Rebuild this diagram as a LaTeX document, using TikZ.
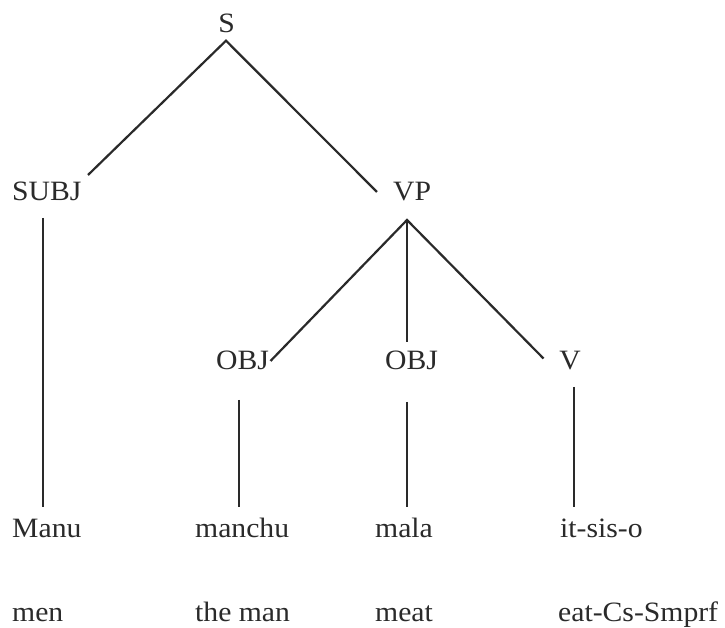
\documentclass[tikz,border=0pt]{standalone}
\usepackage{fontspec}
\setmainfont[FakeStretch=1.06]{Liberation Serif}
\definecolor{ink}{HTML}{2A2A2A}
\begin{document}
\begin{tikzpicture}[x=1pt,y=1pt,
  lbl/.style={inner sep=0pt,anchor=base west,text=ink,font=\fontsize{28}{30}\selectfont},
  lblc/.style={lbl,anchor=base},
  edge/.style={draw=ink,line width=2.2pt}]
\useasboundingbox[fill=white] (0,0) rectangle (725,628);
% category nodes
\node[lblc] (S) at (226.7,595) {S};
\node[lbl] (SUBJ) at (12,427) {SUBJ};
\node[lbl] (VP) at (393,427) {VP};
\node[lbl] (OBJa) at (216,258) {OBJ};
\node[lbl] (OBJb) at (385,258) {OBJ};
\node[lblc] (V) at (570,258) {V};
% words
\node[lbl] (Manu) at (12,90) {Manu};
\node[lbl] (manchu) at (195,90) {manchu};
\node[lbl] (mala) at (375,90) {mala};
\node[lbl] (itsiso) at (560,90) {it-sis-o};
% glosses
\node[lbl] (men) at (12,6) {men};
\node[lbl] (theman) at (195,6) {the man};
\node[lbl] (meat) at (375,6) {meat};
\node[lbl] (eat) at (558,6) {eat-Cs-Smprf};
% connectors
\draw[edge] ([shift={(76,26)}]SUBJ.base west) -- ([shift={(-0.7,-7.7)}]S.base) -- ([shift={(-16,9)}]VP.base west);
\draw[edge] ([shift={(31,-17)}]SUBJ.base west) -- ([shift={(31,31)}]Manu.base west);
\draw[edge] ([shift={(54.5,9)}]OBJa.base west) -- ([shift={(14,-19)}]VP.base west) -- ([shift={(-26.5,11.5)}]V.base);
\draw[edge] ([shift={(14,-19)}]VP.base west) -- ([shift={(22,28)}]OBJb.base west);
\draw[edge] ([shift={(23,-30)}]OBJa.base west) -- ([shift={(44,31)}]manchu.base west);
\draw[edge] ([shift={(22,-32)}]OBJb.base west) -- ([shift={(32,31)}]mala.base west);
\draw[edge] ([shift={(4,-17)}]V.base) -- ([shift={(14,31)}]itsiso.base west);
\end{tikzpicture}
\end{document}
